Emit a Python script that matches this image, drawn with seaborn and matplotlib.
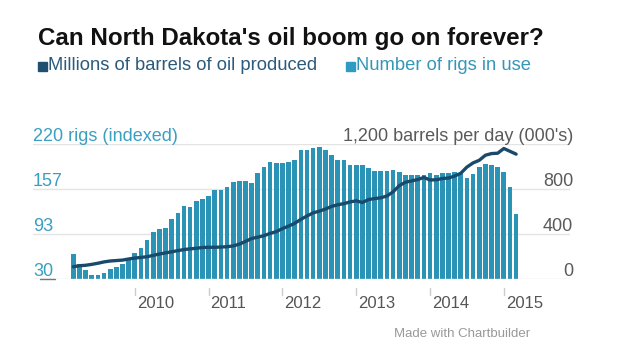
import numpy as np
import pandas as pd
import matplotlib
matplotlib.use("Agg")
import matplotlib.pyplot as plt
import matplotlib.transforms as mtrans
import seaborn as sns

# ---- data ----
months = pd.date_range("2009-03-01", "2015-03-01", freq="MS").strftime("%Y-%m").tolist()
rigs = [65, 51, 42, 35, 35, 39, 44, 47, 51, 59, 66, 74, 85, 96, 101, 102, 115, 123,
        133, 131, 140, 142, 147, 155, 155, 159, 166, 168, 168, 165, 179, 188, 194, 193,
        193, 194, 198, 211, 211, 215, 216, 212, 205, 198, 197, 191, 191, 190, 186, 182,
        182, 182, 183, 180, 177, 177, 177, 176, 179, 176, 179, 179, 181, 179, 172, 178,
        187, 192, 190, 188, 181, 160, 122]
oil = [109, 118, 122, 130, 140, 152, 160, 164, 168, 178, 186, 192, 198, 210, 222, 232,
       242, 252, 262, 268, 273, 280, 282, 282, 284, 287, 294, 310, 334, 360, 372, 385,
       405, 421, 448, 470, 495, 530, 560, 588, 603, 622, 645, 660, 670, 685, 695, 680,
       706, 715, 722, 738, 775, 830, 860, 872, 884, 903, 880, 882, 893, 898, 915, 940,
       995, 1032, 1055, 1100, 1115, 1118, 1160, 1135, 1110]
year_labels = ["2010", "2011", "2012", "2013", "2014", "2015"]
left_ticks = ["30", "93", "157", "220 rigs (indexed)"]
left_vals = [30, 93, 157, 220]
right_ticks = ["0", "400", "800", "1,200 barrels per day (000's)"]
right_vals = [0, 400, 800, 1200]

BAR = "#2b93b6"
LINE = "#1a4a6b"
LEFT_TXT = "#3a9fc2"
RIGHT_TXT = "#5a5a5a"
GRID = "#e4e4e4"

W, H = 620, 349
sns.set_style("white")
plt.rcParams['font.family'] = ['Liberation Sans', 'DejaVu Sans']

fig = plt.figure(figsize=(W / 100, H / 100), dpi=100)
fig.patch.set_facecolor("white")


def fx(px):
    return px / W


def fy(py):
    return 1 - py / H


ax = fig.add_axes([fx(33), fy(279), 537 / W, 135 / H])
df = pd.DataFrame({"month": months, "pos": np.arange(len(months)), "rigs": rigs, "oil": oil})

sns.barplot(data=df, x="pos", y="rigs", color=BAR, saturation=1, width=0.76, ax=ax,
            zorder=2, linewidth=0)
ax.set_xlim(-6.55, 80.76)
ax.set_ylim(30, 220)
for v in left_vals[1:]:
    ax.axhline(v, color=GRID, lw=1, zorder=0)
ax.axhline(30, color="#dddddd", lw=1, zorder=3)
ax.set_xticks([])
ax.set_yticks([])
ax.set_xlabel("")
ax.set_ylabel("")
for s in ax.spines.values():
    s.set_visible(False)

ax2 = ax.twinx()
sns.lineplot(data=df, x="pos", y="oil", color=LINE, linewidth=2.4, ax=ax2)
ax2.set_ylim(0, 1200)
ax2.set_xlim(-6.55, 80.76)
ax2.set_yticks([])
ax2.set_xticks([])
ax2.set_xlabel("")
ax2.set_ylabel("")
for s in ax2.spines.values():
    s.set_visible(False)

# short dark baseline segment under "30"
fig.add_artist(plt.Line2D([fx(40), fx(55)], [fy(279), fy(279)], color="#777777", lw=1))

# year ticks and labels
jan_pos = [months.index(y + "-01") for y in year_labels]
bt = mtrans.blended_transform_factory(ax.transData, ax.transAxes)
for p, lab in zip(jan_pos, year_labels):
    ax.plot([p, p], [-9 / 135, -16 / 135], transform=bt, color="#cccccc", lw=1, clip_on=False)
    ax.text(p + 0.3, -24 / 135, lab, transform=bt, ha="left", va="center",
            fontsize=12, color="#555555")

# left axis labels
for v, lab in zip(left_vals, left_ticks):
    py = 279 - (v - 30) / 190 * 135
    fig.text(fx(33), fy(py - 3), lab, ha="left", va="baseline", fontsize=13, color=LEFT_TXT)
# right axis labels
for v, lab in zip(right_vals, right_ticks):
    py = 279 - v / 1200 * 135
    fig.text(fx(573), fy(py - 3), lab, ha="right", va="baseline", fontsize=13, color=RIGHT_TXT)

# title and legend
fig.text(fx(38), fy(38), "Can North Dakota's oil boom go on forever?", ha="left", va="center",
         fontsize=17.4, fontweight="bold", color="#111111")
fig.patches.append(plt.Rectangle((fx(38), fy(71)), 9 / W, 9 / H, transform=fig.transFigure,
                                 color="#1f5070"))
fig.text(fx(48), fy(66), "Millions of barrels of oil produced", ha="left", va="center",
         fontsize=13.2, color="#2a5a7c")
fig.patches.append(plt.Rectangle((fx(346), fy(71)), 9 / W, 9 / H, transform=fig.transFigure,
                                 color="#2e9bc0"))
fig.text(fx(356), fy(66), "Number of rigs in use", ha="left", va="center",
         fontsize=13.2, color="#3596b8")

fig.text(fx(530), fy(334), "Made with Chartbuilder", ha="right", va="center",
         fontsize=9.5, color="#999999")

fig.savefig("out.png", dpi=100)
